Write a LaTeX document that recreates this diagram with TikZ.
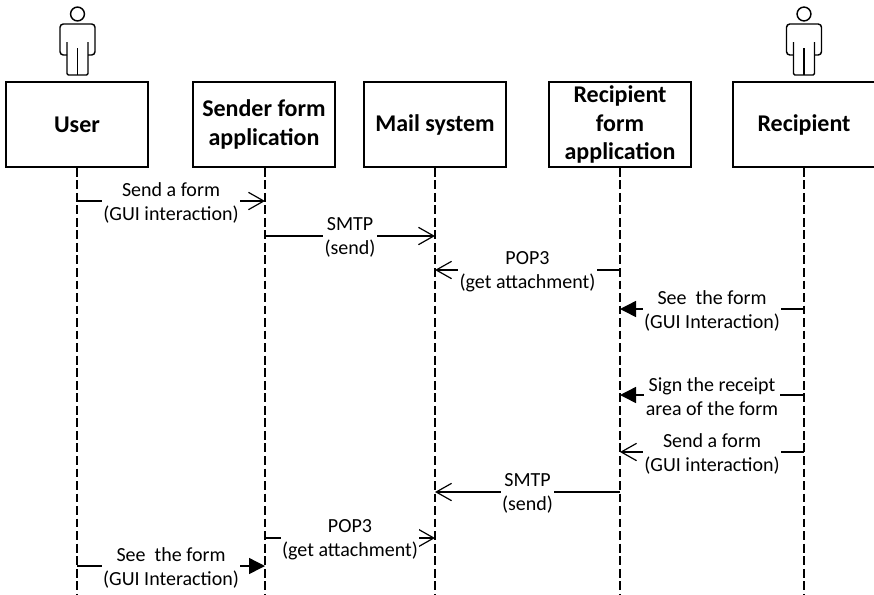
\documentclass[tikz,border=0pt]{standalone}
\usepackage{fontspec}
\setmainfont{Carlito}
\usetikzlibrary{arrows.meta}
\tikzset{
  lane/.style={draw, line width=1.1pt, minimum width=106.5pt, minimum height=63.75pt, align=center, inner sep=0pt, font=\fontsize{18}{21.5}\selectfont\bfseries},
  life/.style={line width=1.1pt, dash pattern=on 6.6pt off 2.8pt},
  msg/.style={line width=1.1pt, -{Straight Barb[length=11.5pt,width=13pt,line width=0.9pt]}},
  msgfull/.style={line width=1.1pt, -{Triangle[length=12pt,width=12pt]}},
  lbl/.style={fill=white, align=center, inner xsep=1pt, inner ysep=0pt, yshift=-1.2pt, font=\fontsize{15}{18}\selectfont}
}
\begin{document}
\begin{tikzpicture}[x=0.75pt,y=-0.75pt]
\useasboundingbox (0,0) rectangle (874,594);
% boxes
\node[lane] (User) at (77,124.5) {User};
\node[lane] (Sender) at (264,124.5) {Sender form\\application};
\node[lane] (Mail) at (435,124.5) {Mail system};
\node[lane] (Form) at (620,124.5) {Recipient\\form\\application};
\node[lane] (Recipient) at (804,124.5) {Recipient};
% lifelines
\coordinate (UserEnd) at (77,594);
\coordinate (SenderEnd) at (265,594);
\coordinate (MailEnd) at (435,594);
\coordinate (FormEnd) at (620,594);
\coordinate (RecipientEnd) at (804,594);
\draw[life] (User.south) -- (UserEnd);
\draw[life] (Sender.south -| SenderEnd) -- (SenderEnd);
\draw[life] (Mail.south) -- (MailEnd);
\draw[life] (Form.south) -- (FormEnd);
\draw[life] (Recipient.south) -- (RecipientEnd);
% actors
\foreach \x in {77.5,804} {
  \draw[line width=1.1pt] (\x,14) circle [radius=5.2pt];
  \draw[line width=1.1pt, rounded corners=1pt] (\x-10.5,42) -- (\x-10.5,75) -- (\x+10.5,75) -- (\x+10.5,42);
  \draw[line width=1.1pt] (\x,48) -- (\x,75);
  \draw[line width=1.1pt, rounded corners=2.5pt] (\x-10.5,55) -- (\x-17.5,55) -- (\x-17.5,24) -- (\x+17.5,24) -- (\x+17.5,55) -- (\x+10.5,55);
}
% message ends
\coordinate (a1) at (77,201);
\coordinate (a2) at (265,201);
\coordinate (b1) at (265,236);
\coordinate (b2) at (435,236);
\coordinate (c1) at (620,270);
\coordinate (c2) at (435,270);
\coordinate (d1) at (804,309);
\coordinate (d2) at (620,309);
\coordinate (e1) at (804,395);
\coordinate (e2) at (620,395);
\coordinate (f1) at (804,452);
\coordinate (f2) at (620,452);
\coordinate (g1) at (620,492);
\coordinate (g2) at (435,492);
\coordinate (h1) at (265,538);
\coordinate (h2) at (435,538);
\coordinate (i1) at (77,566);
\coordinate (i2) at (265,566);
% messages
\draw[msg] (a1) -- node[lbl] {Send a form\\(GUI interaction)} (a2);
\draw[msg] (b1) -- node[lbl] {SMTP\\(send)} (b2);
\draw[msg] (c1) -- node[lbl] {POP3\\(get attachment)} (c2);
\draw[msgfull] (d1) -- node[lbl] {See\ \ the form\\(GUI Interaction)} (d2);
\draw[msgfull] (e1) -- node[lbl] {Sign the receipt\\area of the form} (e2);
\draw[msg] (f1) -- node[lbl] {Send a form\\(GUI interaction)} (f2);
\draw[msg] (g1) -- node[lbl] {SMTP\\(send)} (g2);
\draw[msg] (h1) -- node[lbl] {POP3\\(get attachment)} (h2);
\draw[msgfull] (i1) -- node[lbl] {See\ \ the form\\(GUI Interaction)} (i2);
\end{tikzpicture}
\end{document}
